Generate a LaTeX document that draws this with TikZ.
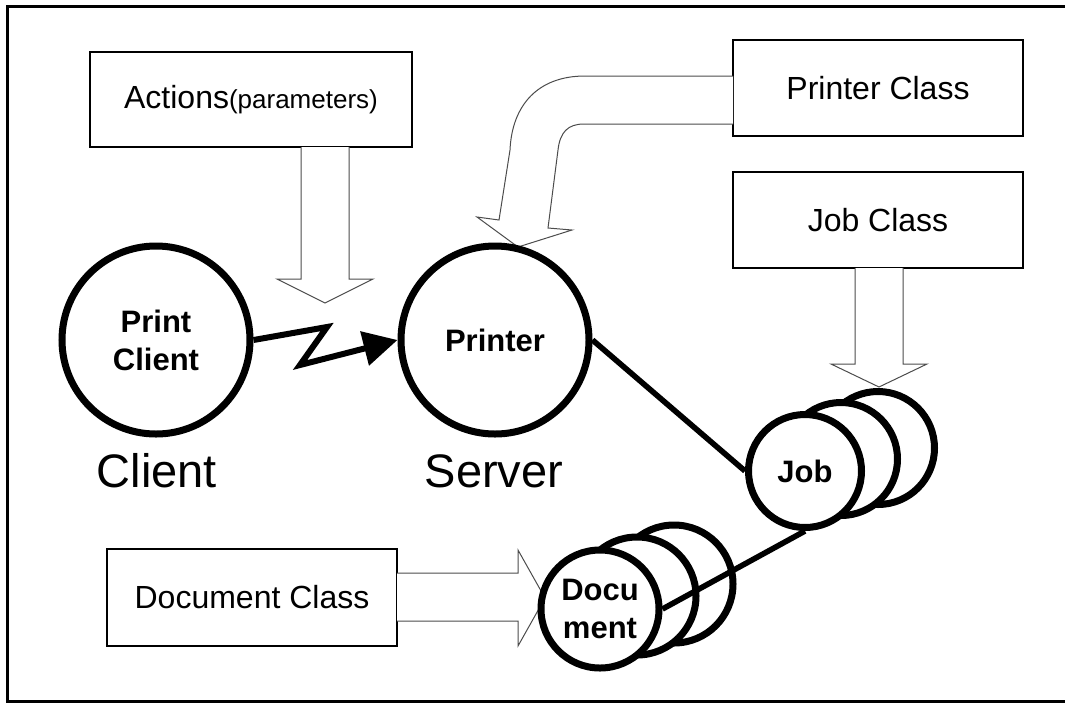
\documentclass[tikz,border=0pt]{standalone}
\usepackage{fontspec}
\setmainfont{Liberation Sans}
\usepackage{tikz}
\usetikzlibrary{arrows.meta}

\begin{document}
\begin{tikzpicture}[x=0.5pt, y=-0.5pt,
        classbox/.style={draw, line width=1.3pt, minimum width=145pt, minimum height=48pt, inner sep=0pt, font=\fontsize{16}{19}\selectfont},
        bigcircle/.style={circle, draw, line width=3.5pt, fill=white, minimum size=94pt, inner sep=0pt, align=center, font=\bfseries\fontsize{15.5}{19}\selectfont},
        jobcircle/.style={bigcircle, minimum size=56.5pt},
        doccircle/.style={bigcircle, minimum size=59pt},
        sidelabel/.style={anchor=base, font=\fontsize{23.5}{28}\selectfont},
        blockarrow/.style={draw=black!70, line width=0.5pt, fill=white},
        link/.style={line width=2.8pt}]
        \useasboundingbox (0,0) rectangle (1065,703);
        \draw[line width=1.5pt] (1070,6) -- (7,6) -- (7,701) -- (1070,701);

        % class boxes
        \node[classbox, minimum width=161pt, minimum height=47.5pt] (actions) at (251,99.5) {Actions{\fontsize{13}{15}\selectfont(parameters)}};
        \node[classbox] (printerclass) at (878,88) {Printer Class};
        \node[classbox] (jobclass) at (878,220) {Job Class};
        \node[classbox, minimum height=48.5pt] (docclass) at (252,597.5) {Document Class};

        % wide arrows
        \draw[blockarrow] (301,147) -- (301,279) -- (277,279) -- (325,303) -- (373,279) -- (349,279) -- (349,147);
        \draw[blockarrow] (855,268) -- (855,364) -- (831,364) -- (879,387) -- (927,364) -- (903,364) -- (903,268);
        \draw[blockarrow] (397,573) -- (518,573) -- (518,550) -- (545,598) -- (518,646) -- (518,621) -- (397,621);
        \draw[blockarrow] (733,76) -- (585,76) .. controls (538,76) and (512,105) .. (510,150) -- (499,220) -- (477,217)
            -- (518,247) -- (572,230) -- (548,228) -- (558,150) .. controls (560,132) and (568,124) .. (584,124) -- (733,124);

        % client and server
        \node[bigcircle] (client) at (156,340) {Print\\Client};
        \node[bigcircle] (printer) at (495,340) {Printer};
        \node[sidelabel] (clientlabel) at (157,487) {Client};
        \node[sidelabel] (serverlabel) at (494,487) {Server};

        \foreach \i/\x/\y in {3/878/448, 2/841/459} {
            \node[jobcircle] (job\i) at (\x,\y) {};
        }
        \node[jobcircle] (job1) at (805,471) {Job};

        \foreach \i/\x/\y in {3/674/584, 2/637/596} {
            \node[doccircle] (doc\i) at (\x,\y) {};
        }
        \node[doccircle] (doc1) at (600,609) {Docu\\ment};

        \draw[line width=3pt, line join=miter, -{Triangle[length=17pt, width=17pt]}] (client.east) -- (327,327) -- (300,365) -- (printer.west);
        \draw[link] (printer.east) -- (job1.west);
        \draw[link] (job1.south) -- (doc1.east);
    \end{tikzpicture}
\end{document}
